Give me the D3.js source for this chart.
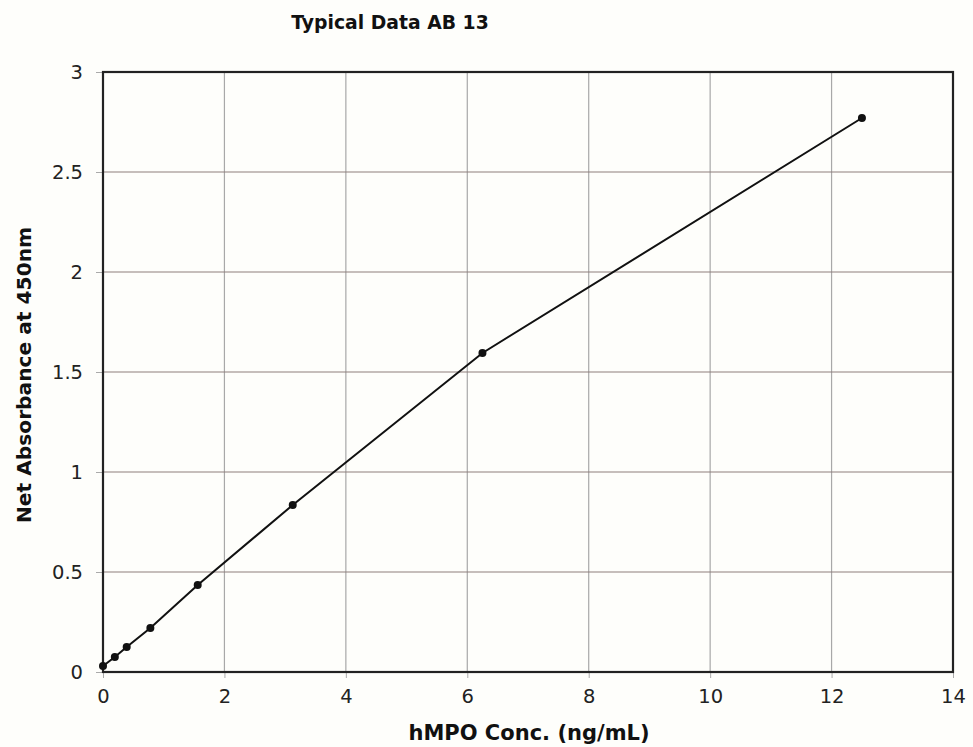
<!DOCTYPE html>
<html>
<head>
<meta charset="utf-8">
<script src="https://cdn.jsdelivr.net/npm/d3@7"></script>
<style>
  body { margin: 0; background: #fefefb; }
  svg { display: block; font-family: "DejaVu Sans", Verdana, sans-serif; }
</style>
</head>
<body>
<div class="layout"></div>
<script>
// hMPO standard curve
var conc = [0, 0.195, 0.39, 0.78, 1.56, 3.125, 6.25, 12.5];
var absorbance = [0.03, 0.075, 0.125, 0.22, 0.435, 0.835, 1.595, 2.77];
var xTicks = [0, 2, 4, 6, 8, 10, 12, 14];
var yTicks = [0, 0.5, 1, 1.5, 2, 2.5, 3];

var margin = {top: 72, right: 20, bottom: 75, left: 103},
    width = 973 - margin.left - margin.right,
    height = 747 - margin.top - margin.bottom;

var x = d3.scaleLinear().domain([0, 14]).range([0, width]);
var y = d3.scaleLinear().domain([0, 3]).range([height, 0]);

var svg = d3.select(".layout").append("svg")
    .attr("width", 973)
    .attr("height", 747);

var g = svg.append("g")
    .attr("transform", "translate(" + margin.left + "," + margin.top + ")");

// grid
g.append("g").selectAll("line.v")
    .data(xTicks.slice(1, -1))
  .enter().append("line")
    .attr("x1", function(d) { return x(d); })
    .attr("x2", function(d) { return x(d); })
    .attr("y1", 0).attr("y2", height)
    .attr("stroke", "#a8a8a8").attr("stroke-width", 1.2);

g.append("g").selectAll("line.h")
    .data(yTicks.slice(1, -1))
  .enter().append("line")
    .attr("y1", function(d) { return y(d); })
    .attr("y2", function(d) { return y(d); })
    .attr("x1", 0).attr("x2", width)
    .attr("stroke", "#8e7f7c").attr("stroke-width", 1.2);

// axes
var xAxis = d3.axisBottom(x).tickValues(xTicks).tickSizeInner(6).tickSizeOuter(0).tickPadding(11);
var yAxis = d3.axisLeft(y).tickValues(yTicks).tickSizeInner(7).tickSizeOuter(0).tickPadding(13)
    .tickFormat(function(d) { return d; });

var gx = g.append("g")
    .attr("transform", "translate(0," + height + ")")
    .call(xAxis);
var gy = g.append("g").call(yAxis);

[gx, gy].forEach(function(a) {
  a.select(".domain").remove();
  a.selectAll(".tick line").attr("stroke", "#aaa");
  a.selectAll(".tick text")
      .attr("fill", "#222")
      .style("font-size", "19.5px")
      .style("font-family", "DejaVu Sans, Verdana, sans-serif");
});

// frame
g.append("rect")
    .attr("width", width).attr("height", height)
    .attr("fill", "none")
    .attr("stroke", "#222").attr("stroke-width", 2.2);

// curve
var line = d3.line()
    .x(function(d, i) { return x(conc[i]); })
    .y(function(d) { return y(d); });

g.append("path")
    .datum(absorbance)
    .attr("fill", "none")
    .attr("stroke", "#111")
    .attr("stroke-width", 2)
    .attr("d", line);

g.selectAll("circle")
    .data(absorbance)
  .enter().append("circle")
    .attr("cx", function(d, i) { return x(conc[i]); })
    .attr("cy", function(d) { return y(d); })
    .attr("r", 4)
    .attr("fill", "#111");

// titles
svg.append("text")
    .attr("x", 390).attr("y", 29)
    .attr("text-anchor", "middle")
    .style("font-size", "18.8px").style("font-weight", "bold")
    .attr("fill", "#111")
    .text("Typical Data AB 13");

svg.append("text")
    .attr("x", 529).attr("y", 740)
    .attr("text-anchor", "middle")
    .style("font-size", "21px").style("font-weight", "bold")
    .attr("fill", "#111")
    .text("hMPO Conc. (ng/mL)");

svg.append("text")
    .attr("transform", "translate(31,375) rotate(-90)")
    .attr("text-anchor", "middle")
    .style("font-size", "20.2px").style("font-weight", "bold")
    .attr("fill", "#111")
    .text("Net Absorbance at 450nm");
</script>
</body>
</html>
